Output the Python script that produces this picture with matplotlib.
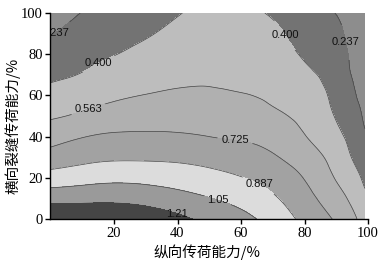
import numpy as np
import matplotlib
matplotlib.use("Agg")
import matplotlib.pyplot as plt
import matplotlib.tri as mtri

# grid positions (%)
x_vals = [0, 10, 20, 30, 40, 50, 60, 70, 80, 90, 95, 99]
y_vals = [0, 10, 20, 30, 40, 50, 60, 70, 80, 90, 100]

# estimated field values, one list per x column (bottom -> top)
z_x0 = [1.37, 1.154, 0.958, 0.793, 0.659, 0.544, 0.451, 0.370, 0.300, 0.228, 0.165]
z_x10 = [1.36, 1.165, 0.988, 0.839, 0.718, 0.588, 0.495, 0.409, 0.351, 0.295, 0.241]
z_x20 = [1.35, 1.172, 1.010, 0.862, 0.747, 0.635, 0.538, 0.466, 0.395, 0.343, 0.292]
z_x30 = [1.314, 1.151, 1.002, 0.862, 0.749, 0.656, 0.567, 0.505, 0.443, 0.386, 0.341]
z_x40 = [1.246, 1.108, 0.977, 0.854, 0.743, 0.662, 0.585, 0.530, 0.483, 0.436, 0.392]
z_x50 = [1.17, 1.056, 0.940, 0.830, 0.725, 0.655, 0.586, 0.539, 0.503, 0.466, 0.432]
z_x60 = [1.095, 0.998, 0.893, 0.796, 0.708, 0.639, 0.570, 0.532, 0.497, 0.463, 0.428]
z_x70 = [0.99, 0.908, 0.825, 0.741, 0.666, 0.592, 0.540, 0.503, 0.465, 0.427, 0.385]
z_x80 = [0.846, 0.782, 0.718, 0.644, 0.570, 0.521, 0.474, 0.428, 0.385, 0.347, 0.309]
z_x90 = [0.705, 0.626, 0.552, 0.496, 0.440, 0.390, 0.358, 0.326, 0.293, 0.261, 0.234]
z_x95 = [0.604, 0.529, 0.461, 0.395, 0.350, 0.305, 0.260, 0.231, 0.219, 0.208, 0.196]
z_x99 = [0.49, 0.428, 0.372, 0.316, 0.259, 0.215, 0.197, 0.182, 0.170, 0.160, 0.150]

levels = [0.237, 0.400, 0.563, 0.725, 0.887, 1.05, 1.21]
level_labels = ["0.237", "0.400", "0.563", "0.725", "0.887", "1.05", "1.21"]
fill_colors = ["#8d8d8d", "#737373", "#bdbdbd", "#b0b0b0", "#a2a2a2",
               "#dcdcdc", "#9a9a9a", "#454545"]

xticks = [20, 40, 60, 80, 100]
yticks = [0, 20, 40, 60, 80, 100]
xlabel = "纵向传荷能力/%"
ylabel = "横向裂缝传荷能力/%"

columns = [z_x0, z_x10, z_x20, z_x30, z_x40, z_x50, z_x60, z_x70, z_x80,
           z_x90, z_x95, z_x99]
Z = np.column_stack([np.asarray(c) for c in columns])
X, Y = np.meshgrid(np.asarray(x_vals, float), np.asarray(y_vals, float))

tri = mtri.Triangulation(X.ravel(), Y.ravel())
refiner = mtri.UniformTriRefiner(tri)
tri_r, z_r = refiner.refine_field(Z.ravel(), subdiv=4)

fig = plt.figure(figsize=(3.85, 2.66), dpi=100)
ax = fig.add_axes([50.5 / 385, 47 / 266, 317.5 / 385, 206 / 266])

all_levels = [-1.0] + levels + [3.0]
ax.tricontourf(tri_r, z_r, levels=all_levels, colors=fill_colors)
cs = ax.tricontour(tri_r, z_r, levels=levels, colors="#454545", linewidths=0.5)

fmt = {lv: lab for lv, lab in zip(cs.levels, level_labels)}
manual = [(1.8, 90), (14.6, 77), (11.8, 54), (58, 37), (65.4, 16),
          (52.4, 8.3), (40, 3), (75.7, 91), (95, 86.4)]
texts = ax.clabel(cs, fmt=fmt, manual=manual, inline=True, inline_spacing=2,
                  fontsize=8, colors="#111111")
for t in texts:
    t.set_rotation(0)
    t.set_fontfamily("Liberation Sans")
    t.set_clip_on(True)
    t.set_clip_path(ax.patch)

ax.set_xlim(0, 100)
ax.set_ylim(0, 100)
ax.set_xticks(xticks)
ax.set_yticks(yticks)
for s in ["top", "right"]:
    ax.spines[s].set_visible(False)
for s in ["left", "bottom"]:
    ax.spines[s].set_linewidth(1.0)
ax.tick_params(direction="out", length=3.5, width=1.0, pad=2)
for lab in ax.get_xticklabels() + ax.get_yticklabels():
    lab.set_fontfamily("Liberation Serif")
    lab.set_fontsize(10.5)

fig.text(207 / 385, 1 - 252 / 266, xlabel, ha="center", va="center",
         fontsize=10.5, family=["Noto Sans CJK SC", "DejaVu Sans"])
fig.text(13 / 385, 1 - 126 / 266, ylabel, ha="center", va="center",
         rotation=90, fontsize=10.5, family=["Noto Sans CJK SC", "DejaVu Sans"])

fig.savefig("out.png", dpi=100)
